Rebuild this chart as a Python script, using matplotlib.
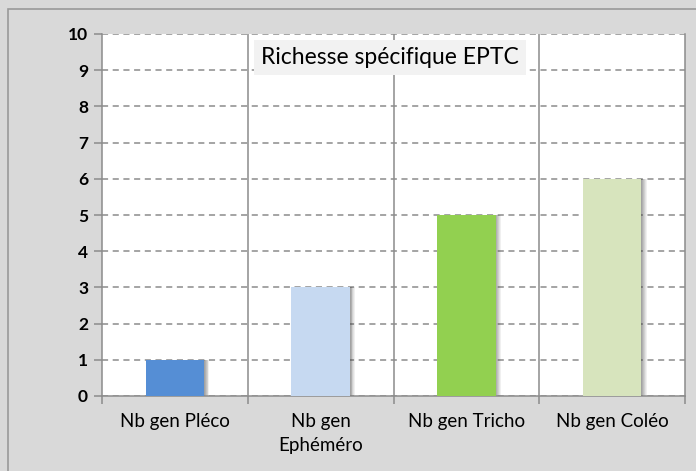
import matplotlib.pyplot as plt
from matplotlib.patches import Rectangle

# Data
categories = ['Nb gen Pléco', 'Nb gen\nEphéméro', 'Nb gen Tricho', 'Nb gen Coléo']
values = [1, 3, 5, 6]
bar_colors = ['#558ed5', '#c6d9f1', '#92d050', '#d7e4bd']
title = 'Richesse spécifique EPTC'

plt.rcParams['font.family'] = ['Lato', 'DejaVu Sans']

fig = plt.figure(figsize=(6.96, 4.71), dpi=100)
fig.patch.set_facecolor('#d9d9d9')

# outer frame (only left/top edges visible in the crop)
fig.patches.append(Rectangle((8 / 696, -0.1), 1.2, 1 - 9 / 471 + 0.1,
                             transform=fig.transFigure, fill=False,
                             edgecolor='#9a9a9a', linewidth=1.2))

ax = fig.add_axes([102 / 696, 1 - 396 / 471, 583 / 696, 362 / 471])
ax.set_facecolor('white')

x = list(range(len(values)))
bw = 0.40

# soft shadow behind bars
for i, a in enumerate([0.12, 0.12, 0.10, 0.10, 0.08, 0.08]):
    off = 0.006 * (i + 1)
    ax.bar([xi + off for xi in x], values, width=bw, color='#404040',
           alpha=a, zorder=2, linewidth=0)
ax.bar(x, values, width=bw, color=bar_colors, zorder=3, linewidth=0)

ax.set_xlim(-0.5, len(values) - 0.5)
ax.set_ylim(0, 10)
ax.set_yticks(range(0, 11))
ax.yaxis.grid(True, linestyle=(0, (4, 3)), color='#8c8c8c', linewidth=1.1)
ax.set_axisbelow(True)

for b in [0.5, 1.5, 2.5]:
    ax.axvline(b, color='#8c8c8c', linewidth=1.1, zorder=1)

ax.set_xticks(x)
ax.set_xticklabels(categories, fontsize=13.5, linespacing=1.5)
ax.set_xticks([-0.5, 0.5, 1.5, 2.5, 3.5], minor=True)
ax.tick_params(axis='x', which='major', length=0, pad=12)
ax.tick_params(axis='x', which='minor', length=6, color='#8c8c8c', width=1.1)
ax.tick_params(axis='y', length=6, color='#8c8c8c', width=1.1,
               labelsize=12.5, pad=4)
for lbl in ax.get_yticklabels():
    lbl.set_fontweight('bold')
for lbl in ax.get_xticklabels():
    lbl.set_verticalalignment('top')

for side in ['left', 'right', 'bottom']:
    ax.spines[side].set_color('#8c8c8c')
    ax.spines[side].set_linewidth(1.1)
ax.spines['top'].set_visible(False)

ax.text(0.494, 0.936, title, transform=ax.transAxes, ha='center', va='center',
        fontsize=16.5, zorder=5,
        bbox=dict(boxstyle='square,pad=0.3', facecolor='#f2f2f2',
                  edgecolor='none'))

fig.savefig('out.png', dpi=100, facecolor=fig.get_facecolor())
